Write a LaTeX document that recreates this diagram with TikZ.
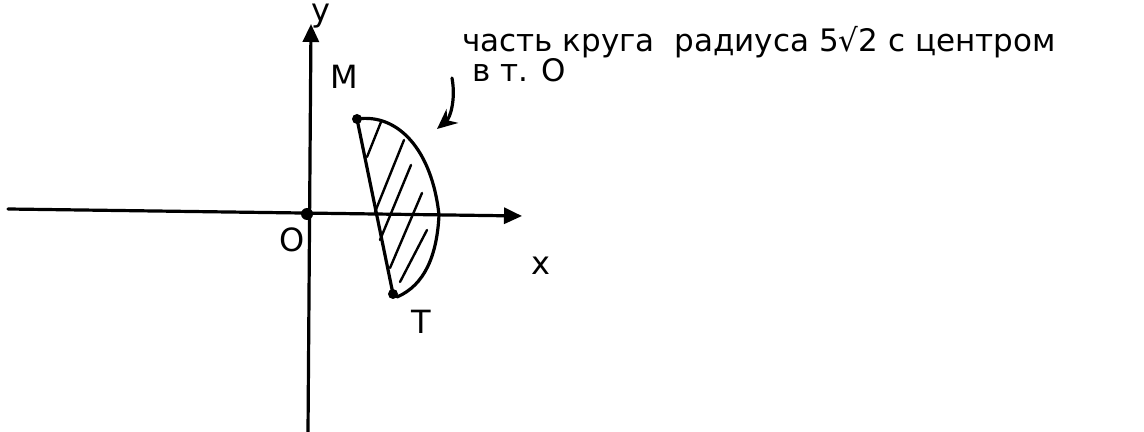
\documentclass[tikz,border=0pt]{standalone}
\usepackage{fontspec}
\setmainfont{DejaVu Sans}
\usetikzlibrary{arrows.meta}
\begin{document}
\begin{tikzpicture}[x=0.5pt,y=-0.5pt,
  ln/.style={line width=1.6pt,line cap=round,line join=round},
  hatch/.style={line width=1.2pt,line cap=round},
  ax/.style={ln,-{Triangle[length=9pt,width=8pt]}},
  lbl/.style={inner sep=0pt,font=\fontsize{16}{19}\selectfont},
  txt/.style={inner sep=0pt,anchor=base west,font=\fontsize{15.5}{18}\selectfont}]
\useasboundingbox (0,0) rectangle (1144,432);
% axes
\coordinate (xs) at (8,209);
\coordinate (xe) at (522,216);
\coordinate (ys) at (308,432);
\coordinate (ye) at (311,24);
\draw[ax] (xs) -- (xe);
\draw[ax] (ys) -- (ye);
\node[circle,fill,inner sep=0pt,minimum size=6pt] (O) at (307,214) {};
\node[lbl] (Olbl) at (292,240) {O};
\node[lbl] (xlbl) at (541,266) {x};
\node[lbl] (ylbl) at (321,16) {y};
% segment
\node[circle,fill,inner sep=0pt,minimum size=5pt] (M) at (357,119) {};
\node[circle,fill,inner sep=0pt,minimum size=5pt] (T) at (393,294) {};
\node[lbl] (Mlbl) at (344,77) {M};
\node[lbl] (Tlbl) at (421,322) {T};
\draw[ln] (M.center) -- (T.center);
\draw[ln] (M.center) .. controls (398,113) and (432,150) .. (439,215)
  .. controls (437,255) and (425,285) .. (397,297);
% hatching
\draw[hatch] (367,157) -- (381,122);
\draw[hatch] (375,212) -- (404,140);
\draw[hatch] (380,240) -- (411,165);
\draw[hatch] (390,268) -- (422,193);
\draw[hatch] (400,282) -- (427,230);
% pointer arrow
\coordinate (ps) at (452,78);
\coordinate (pe) at (437,129);
\draw[ln,-{Stealth[length=10pt,width=9pt]}] (ps) .. controls (456,100) and (450,118) .. (pe);
% text
\node[txt] (t1) at (462,52) {часть круга \ радиуса 5√2 с центром};
\node[txt] (t2) at (472,82) {в т. O};
\end{tikzpicture}
\end{document}
